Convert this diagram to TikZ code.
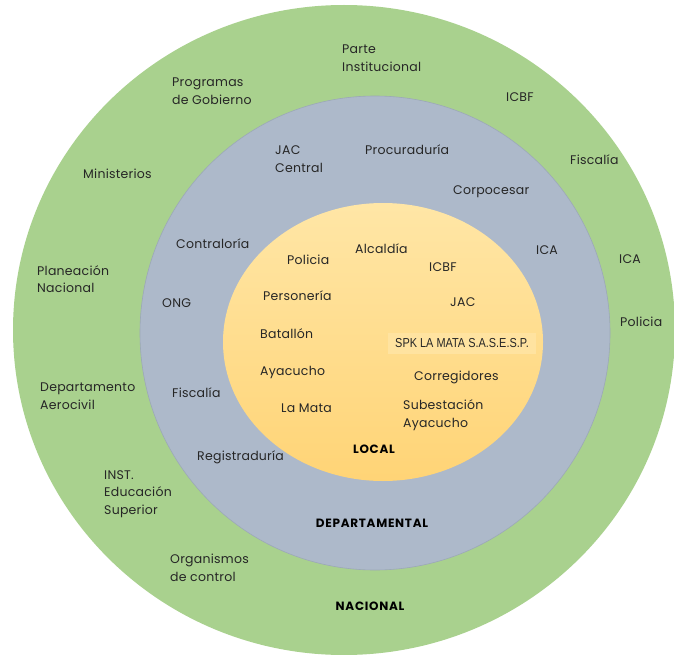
\documentclass[tikz,border=0pt]{standalone}
\usepackage{fontspec}
\setmainfont{Poppins}
\newfontfamily\narrowfont[FakeStretch=0.84]{Liberation Sans}
\usetikzlibrary{positioning}
\definecolor{nacgreen}{HTML}{A9D18E}
\definecolor{depblue}{HTML}{ADB9CA}
\definecolor{depline}{HTML}{9CA8B8}
\definecolor{loctop}{HTML}{FFE6A6}
\definecolor{locbot}{HTML}{FFD476}
\definecolor{spkfill}{HTML}{FFE3A0}
\definecolor{txtgray}{HTML}{262626}

\begin{document}
\begin{tikzpicture}[
  x=1pt, y=-1pt,
  every node/.style={inner sep=0pt, text=txtgray},
  item/.style={anchor=west, align=left,
               font=\fontsize{12.5}{17.5}\selectfont\addfontfeature{LetterSpace=2}},
  level/.style={anchor=center, text=black,
                font=\fontsize{12}{13}\selectfont\bfseries\addfontfeature{LetterSpace=6}},
  spk/.style={anchor=center, fill=spkfill, minimum width=148pt, minimum height=21pt,
              font=\narrowfont\fontsize{13}{14}\selectfont}
]
\useasboundingbox (0,0) rectangle (674,655);
\clip (0,0) rectangle (674,655);

% ---- Rings ----
\fill [nacgreen] (344,330) ellipse [x radius=331, y radius=325];
\filldraw [fill=depblue, draw=depline, line width=0.6pt] (375,333) ellipse [x radius=235, y radius=237];
\shade [top color=loctop, bottom color=locbot] (383,342) ellipse [x radius=160, y radius=139];

% ---- Nacional ----
\node (parte)      [item] at (342,58)  {Parte\\Institucional};
\node (programas)  [item] at (172,91)  {Programas\\de Gobierno};
\node (icbfN)      [item] at (506,97)  {ICBF};
\node (fiscaliaN)  [item] at (570,160) {Fiscalía};
\node (ministerios)[item] at (83,174)  {Ministerios};
\node (icaN)       [item] at (619,259) {ICA};
\node (planeacion) [item] at (37,279)  {Planeación\\Nacional};
\node (policiaN)   [item] at (620,322) {Policia};
\node (aerocivil)  [item] at (40,396)  {Departamento\\Aerocivil};
\node (inst)       [item] at (104,494) {INST.\\Educación\\Superior};
\node (organismos) [item] at (170,568) {Organismos\\de control};
\node (nacional)   [level] at (370,606) {NACIONAL};

% ---- Departamental ----
\node (jacD)        [item] at (275,159) {JAC\\Central};
\node (procuraduria)[item] at (365,150) {Procuraduría};
\node (corpocesar)  [item] at (453,192) {Corpocesar};
\node (contraloria) [item] at (176,244) {Contraloría};
\node (icaD)        [item] at (536,250) {ICA};
\node (ong)         [item] at (162,303) {ONG};
\node (fiscaliaD)   [item] at (172,393) {Fiscalía};
\node (registraduria)[item] at (197,457) {Registraduría};
\node (departamental)[level] at (372,523) {DEPARTAMENTAL};

% ---- Local ----
\node (alcaldia)   [item] at (355,249) {Alcaldía};
\node (policiaL)   [item] at (287,260) {Policia};
\node (icbfL)      [item] at (429,267) {ICBF};
\node (personeria) [item] at (263,296) {Personería};
\node (jacL)       [item] at (450,302) {JAC};
\node (batallon)   [item] at (260,334) {Batallón};
\node (spkmata)    [spk]  at (462,343) {SPK LA MATA S.A.S.E.S.P.};
\node (ayacucho)   [item] at (260,372) {Ayacucho};
\node (corregidores)[item] at (414,377) {Corregidores};
\node (lamata)     [item] at (281,408) {La Mata};
\node (subestacion)[item] at (403,415) {Subestación\\Ayacucho};
\node (local)      [level] at (374,449) {LOCAL};
\end{tikzpicture}
\end{document}
